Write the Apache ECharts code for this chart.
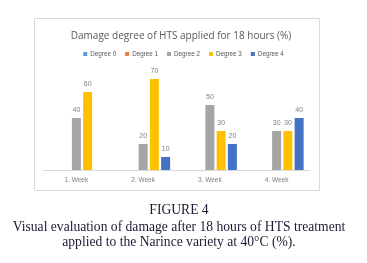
<!DOCTYPE html>
<html><head><meta charset="utf-8">
<script src="https://cdn.jsdelivr.net/npm/echarts@6/dist/echarts.min.js"></script>
<style>html,body{margin:0;padding:0;background:#fff}#c{width:367px;height:263px}</style>
</head><body><div id="c"></div>
<script>
const categories = ['1. Week', '2. Week', '3. Week', '4. Week'];
const seriesNames = ['Degree 0', 'Degree 1', 'Degree 2', 'Degree 3', 'Degree 4'];
const degree0 = [0, 0, 0, 0];
const degree1 = [0, 0, 0, 0];
const degree2 = [40, 20, 50, 30];
const degree3 = [60, 70, 30, 30];
const degree4 = [0, 10, 20, 40];
const colors = ['#5B9BD5', '#ED7D31', '#A5A5A5', '#FFC000', '#4472C4'];
const values = [degree0, degree1, degree2, degree3, degree4];

const capFont = '13.6px "Liberation Serif"';
const chart = echarts.init(document.getElementById('c'), null, {renderer: 'canvas'});
chart.setOption({
  animation: false,
  color: colors,
  graphic: [
    {type: 'rect', shape: {x: 34.5, y: 18.5, width: 285, height: 172}, style: {fill: 'none', stroke: '#d9d9d9', lineWidth: 1}, z: -1},
    {type: 'text', x: 179, y: 203, style: {text: 'FIGURE 4', font: capFont, fill: '#1a1a33', align: 'center'}},
    {type: 'text', x: 179, y: 220, style: {text: 'Visual evaluation of damage after 18 hours of HTS treatment', font: capFont, fill: '#1a1a33', align: 'center'}},
    {type: 'text', x: 179, y: 235, style: {text: 'applied to the Narince variety at 40°C (%).', font: capFont, fill: '#1a1a33', align: 'center'}}
  ],
  title: {text: 'Damage degree of HTS applied for 18 hours (%)', left: 176, textAlign: 'center', top: 26,
    textStyle: {fontSize: 10, fontWeight: 'normal', color: '#595959', fontFamily: 'Open Sans'}},
  legend: {top: 46, left: 'center', itemWidth: 4, itemHeight: 4, itemGap: 9, icon: 'rect',
    textStyle: {fontSize: 6.3, color: '#595959', padding: [0, 0, 0, -2]}, data: seriesNames},
  grid: {left: 43, right: 57, top: 66, bottom: 93},
  xAxis: {type: 'category', data: categories,
    axisLine: {lineStyle: {color: '#d9d9d9'}}, axisTick: {show: false},
    axisLabel: {fontSize: 6.5, color: '#7f7f7f', margin: 7}},
  yAxis: {type: 'value', min: 0, max: 80, interval: 10, show: false, splitLine: {show: false}},
  series: seriesNames.map((n, i) => ({
    name: n, type: 'bar', data: values[i], barWidth: 9, barGap: '25%',
    itemStyle: {color: colors[i]},
    label: {show: true, position: 'top', fontSize: 7, color: '#7f7f7f', distance: 4,
      formatter: p => p.value === 0 ? '' : p.value}
  }))
});
</script></body></html>
